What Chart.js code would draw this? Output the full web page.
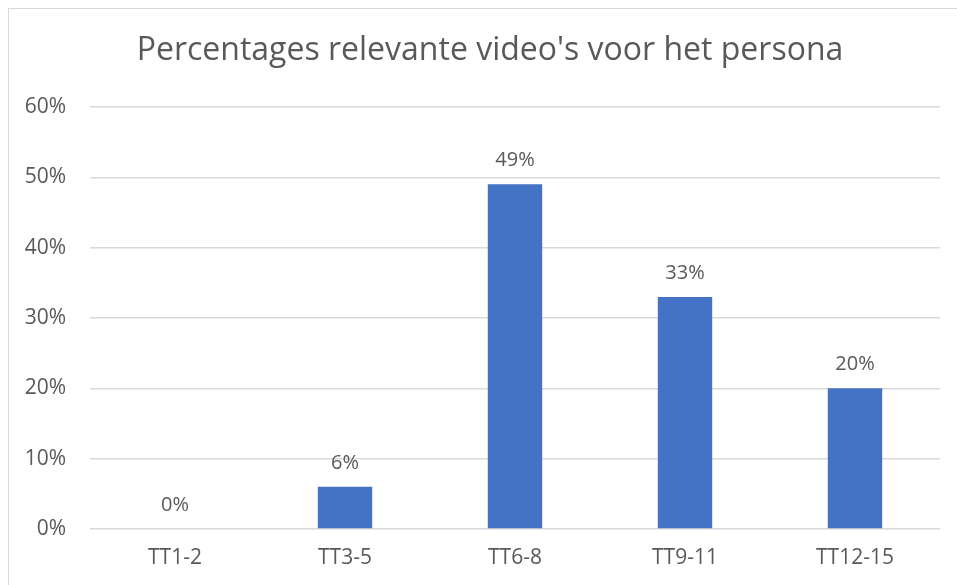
<!DOCTYPE html>
<html>
<head>
<meta charset="utf-8">
<script src="https://cdn.jsdelivr.net/npm/chart.js@4"></script>
<style>
  html, body { margin: 0; padding: 0; background: #fff; }
  #wrap { position: relative; width: 957px; height: 585px; overflow: hidden; }
  #frame { position: absolute; left: 8px; top: 8px; width: 980px; height: 620px; border: 1.5px solid #d9d9d9; box-sizing: border-box; }
  canvas { position: absolute; left: 0; top: 0; }
</style>
</head>
<body>
<div id="wrap">
  <div id="frame"></div>
  <canvas id="chart" width="957" height="585"></canvas>
</div>
<script>
var categories = ["TT1-2", "TT3-5", "TT6-8", "TT9-11", "TT12-15"];
var percentages = [0, 6, 49, 33, 20];
var yTicks = [0, 10, 20, 30, 40, 50, 60];
var title = "Percentages relevante video's voor het persona";

var textColor = '#595959';
var font = "'Open Sans', 'Liberation Sans', sans-serif";

// labels above the bars, and the title (centred on the frame, not the canvas)
var valueLabels = {
  id: 'valueLabels',
  afterDatasetsDraw: function (chart) {
    var ctx = chart.ctx;
    var meta = chart.getDatasetMeta(0);
    ctx.save();
    ctx.fillStyle = textColor;
    ctx.textAlign = 'center';
    ctx.textBaseline = 'middle';
    ctx.font = '20px ' + font;
    meta.data.forEach(function (bar, i) {
      ctx.fillText(percentages[i] + '%', bar.x, bar.y - 24);
    });
    ctx.font = '32px ' + font;
    ctx.fillText(title, 490, 51);
    ctx.restore();
  }
};

new Chart(document.getElementById('chart'), {
  type: 'bar',
  data: {
    labels: categories,
    datasets: [{
      data: percentages,
      backgroundColor: '#4472C4',
      categoryPercentage: 1,
      barPercentage: 0.32
    }]
  },
  options: {
    responsive: false,
    animation: false,
    layout: { padding: { left: 20, right: 17, top: 107, bottom: 0 } },
    plugins: {
      legend: { display: false },
      tooltip: { enabled: false }
    },
    scales: {
      x: {
        grid: { display: false },
        border: { display: false },
        ticks: { color: textColor, font: { family: font, size: 21 }, padding: 8 },
        afterFit: function (s) { s.height = 56; }
      },
      y: {
        min: 0,
        max: 60,
        afterBuildTicks: function (s) { s.ticks = yTicks.map(function (v) { return { value: v }; }); },
        grid: { color: '#d9d9d9', lineWidth: 1.5, drawTicks: false },
        border: { display: false },
        ticks: {
          color: textColor,
          font: { family: font, size: 21 },
          padding: 24,
          callback: function (v) { return v + '%'; }
        },
        afterFit: function (s) { s.width = 70; }
      }
    }
  },
  plugins: [valueLabels]
});
</script>
</body>
</html>
